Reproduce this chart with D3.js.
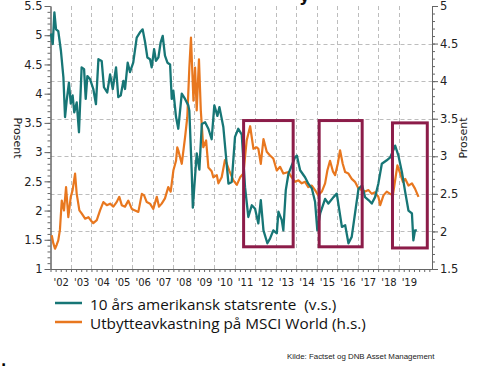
<!DOCTYPE html>
<html>
<head>
<meta charset="utf-8">
<script src="https://cdn.jsdelivr.net/npm/d3@7"></script>
<style>
  body { margin: 0; background: #fff; }
  text { font-family: "DejaVu Sans", Verdana, sans-serif; }
</style>
</head>
<body>
<div id="chart"></div>
<script>
// 10 års amerikansk statsrente (venstre akse)
var rateYears = [2002.02,2002.11,2002.19,2002.27,2002.38,2002.51,2002.63,2002.71,2002.79,2002.90,2002.99,
  2003.08,2003.16,2003.28,2003.39,2003.52,2003.64,2003.72,2003.80,2003.93,2004.09,2004.22,2004.34,2004.50,
  2004.61,2004.77,2004.91,2005.04,2005.20,2005.31,2005.43,2005.56,2005.64,2005.77,2005.88,2006.04,2006.21,
  2006.37,2006.50,2006.62,2006.73,2006.86,2006.94,2007.06,2007.15,2007.27,2007.38,2007.48,2007.59,2007.71,
  2007.84,2007.92,2008.00,2008.13,2008.24,2008.41,2008.57,2008.73,2008.78,2008.90,2008.95,2009.14,2009.27,
  2009.39,2009.55,2009.71,2009.87,2010.00,2010.15,2010.25,2010.44,2010.69,2010.85,2011.01,2011.17,2011.34,
  2011.50,2011.66,2011.83,2011.99,2012.15,2012.27,2012.40,2012.59,2012.72,2012.88,2013.05,2013.13,2013.29,
  2013.37,2013.49,2013.62,2013.94,2014.03,2014.19,2014.43,2014.59,2014.76,2014.92,2015.03,2015.17,2015.41,
  2015.57,2015.82,2015.98,2016.23,2016.39,2016.55,2016.71,2016.87,2017.04,2017.22,2017.36,2017.53,2017.69,
  2017.85,2018.01,2018.18,2018.42,2018.59,2018.83,2018.99,2019.16,2019.32,2019.48,2019.65,2019.72,2019.80,2019.89];
var rateValues = [5.03,4.85,5.39,5.10,5.07,4.73,4.28,3.60,3.88,4.19,3.83,
  3.97,3.68,3.85,3.34,4.45,4.42,3.91,4.30,4.25,4.08,3.82,4.59,4.56,
  4.11,4.02,4.33,4.08,4.45,3.94,3.97,4.22,4.08,4.53,4.37,4.53,4.96,
  5.05,5.10,4.88,4.62,4.59,4.45,4.76,4.56,4.62,4.88,4.99,4.65,4.53,
  4.50,3.91,4.05,3.60,3.40,4.00,3.91,3.80,3.71,2.63,2.05,2.98,2.70,
  3.48,3.51,3.40,3.22,3.80,3.62,3.77,3.43,2.46,2.49,3.26,3.40,3.30,
  2.40,1.89,2.09,2.03,1.78,2.18,1.66,1.44,1.52,1.66,1.61,1.98,1.84,
  1.66,2.35,2.63,2.91,2.94,2.69,2.57,2.46,2.38,2.15,1.66,1.95,2.20,
  2.12,2.23,2.29,1.72,1.75,1.44,1.55,1.95,2.37,2.43,2.23,2.18,2.12,
  2.23,2.46,2.80,2.86,2.91,3.11,2.94,2.66,2.32,2.00,1.95,1.49,1.66,1.66];

// Utbytteavkastning på MSCI World (høyre akse)
var yieldYears = [2002.06,2002.14,2002.22,2002.30,2002.38,2002.46,2002.55,2002.66,2002.76,2002.87,2002.99,
  2003.08,2003.20,2003.28,2003.41,2003.52,2003.69,2003.85,2003.96,2004.09,2004.26,2004.42,2004.58,2004.75,
  2004.91,2005.07,2005.23,2005.36,2005.48,2005.64,2005.80,2005.97,2006.13,2006.29,2006.46,2006.57,2006.70,
  2006.86,2007.02,2007.19,2007.30,2007.43,2007.59,2007.75,2007.87,2008.00,2008.13,2008.19,2008.24,2008.41,
  2008.57,2008.68,2008.78,2008.86,2008.98,2009.06,2009.14,2009.25,2009.34,2009.46,2009.60,2009.71,2009.87,
  2009.95,2010.12,2010.20,2010.36,2010.52,2010.61,2010.73,2010.93,2011.10,2011.26,2011.42,2011.58,2011.75,
  2011.91,2012.07,2012.15,2012.27,2012.40,2012.56,2012.72,2012.88,2013.05,2013.21,2013.37,2013.62,2013.78,
  2013.94,2014.11,2014.27,2014.43,2014.59,2014.76,2014.92,2015.08,2015.25,2015.41,2015.52,2015.65,2015.79,
  2015.90,2016.03,2016.14,2016.27,2016.39,2016.55,2016.71,2016.87,2017.04,2017.20,2017.36,2017.53,2017.69,
  2017.85,2018.01,2018.10,2018.26,2018.42,2018.59,2018.72,2018.83,2018.94,2019.08,2019.21,2019.32,2019.48,
  2019.65,2019.80,2019.97];
var yieldValues = [1.95,1.84,1.77,1.82,1.88,2.02,2.41,2.28,2.59,2.19,2.46,
  2.55,2.77,2.50,2.28,2.24,2.17,2.19,2.15,2.11,2.15,2.28,2.39,2.35,
  2.37,2.33,2.39,2.46,2.35,2.33,2.41,2.30,2.28,2.26,2.50,2.48,2.39,
  2.37,2.30,2.46,2.33,2.37,2.44,2.59,2.53,2.81,2.94,3.12,3.08,2.90,
  3.25,3.52,4.18,4.58,3.74,4.18,3.61,4.29,3.61,3.12,3.21,2.85,2.80,
  2.72,2.75,2.64,2.72,2.95,2.90,2.81,2.68,2.62,2.72,2.77,3.21,3.40,
  3.10,3.12,3.10,2.90,3.23,3.06,3.01,2.97,2.81,2.86,2.77,2.79,2.72,
  2.66,2.68,2.64,2.66,2.59,2.61,2.55,2.48,2.53,2.64,2.81,2.94,2.80,
  2.75,2.90,3.08,2.90,2.79,2.77,2.70,2.66,2.57,2.55,2.53,2.55,2.50,
  2.52,2.46,2.35,2.48,2.53,2.50,2.48,2.68,2.88,2.77,2.66,2.70,2.61,
  2.64,2.57,2.46];

// markerte perioder: [fra, til, bunn, topp] (venstre akse)
var boxStart = [2011.43, 2015.12, 2018.70];
var boxEnd = [2013.85, 2017.22, 2020.40];
var boxLow = [1.38, 1.38, 1.36];
var boxHigh = [3.54, 3.54, 3.50];

var yearTicks = d3.range(2002, 2020);
var leftTicks = [1, 1.5, 2, 2.5, 3, 3.5, 4, 4.5, 5, 5.5];
var rightTicks = [1.5, 2, 2.5, 3, 3.5, 4, 4.5, 5];

var legendLabels = ["10 års amerikansk statsrente  (v.s.)", "Utbytteavkastning på MSCI World (h.s.)"];
var source = "Kilde: Factset og DNB Asset Management";

var svgWidth = 493, svgHeight = 366;
var plot = { left: 50.5, right: 432, top: 6, bottom: 269 };

var teal = "#177676", orange = "#e8771f", maroon = "#8c1c49";

var svg = d3.select("#chart").append("svg")
  .attr("width", svgWidth)
  .attr("height", svgHeight);

var x = d3.scaleLinear().domain([2002, 2020.63]).range([plot.left, plot.right]);
var yLeft = d3.scaleLinear().domain([1, 5.5]).range([plot.bottom, plot.top]);
var yRight = d3.scaleLinear().domain([1.5, 5]).range([plot.bottom, plot.top]);

// grid
var grid = svg.append("g").attr("stroke", "#bdbdbd").attr("stroke-dasharray", "4,3").attr("stroke-width", 1);
grid.selectAll(".vg").data(yearTicks.slice(1)).enter().append("line")
  .attr("x1", d => Math.round(x(d)) + 0.5).attr("x2", d => Math.round(x(d)) + 0.5)
  .attr("y1", plot.top).attr("y2", plot.bottom);
grid.selectAll(".hg").data(rightTicks.filter(d => d > 1.5 && d < 5)).enter().append("line")
  .attr("x1", plot.left).attr("x2", plot.right)
  .attr("y1", d => Math.round(yRight(d)) + 0.5).attr("y2", d => Math.round(yRight(d)) + 0.5);

// axes
function styleAxis(g) {
  g.select(".domain").attr("stroke", "#666");
  g.selectAll(".tick line").attr("stroke", "#666");
  g.selectAll(".tick text").attr("fill", "#222").style("font-family", "DejaVu Sans, Verdana, sans-serif");
}

svg.append("g").attr("transform", "translate(" + plot.left + ",0)")
  .call(d3.axisLeft(yLeft).tickValues(d3.range(1, 5.51, 0.1)).tickSize(3).tickFormat("").tickSizeOuter(0))
  .call(styleAxis);
svg.append("g").attr("transform", "translate(" + plot.left + ",0)")
  .call(d3.axisLeft(yLeft).tickValues(leftTicks).tickSize(6).tickPadding(2).tickFormat(d3.format("")).tickSizeOuter(0))
  .call(styleAxis)
  .call(g => g.selectAll(".tick text").style("font-size", "11.5px"));

svg.append("g").attr("transform", "translate(" + plot.right + ",0)")
  .call(d3.axisRight(yRight).tickValues(d3.range(1.5, 5.01, 0.1)).tickSize(3).tickFormat("").tickSizeOuter(0))
  .call(styleAxis);
svg.append("g").attr("transform", "translate(" + plot.right + ",0)")
  .call(d3.axisRight(yRight).tickValues(rightTicks).tickSize(6).tickPadding(2).tickFormat(d3.format("")).tickSizeOuter(0))
  .call(styleAxis)
  .call(g => g.selectAll(".tick text").style("font-size", "11.5px"));

svg.append("g").attr("transform", "translate(0," + plot.bottom + ")")
  .call(d3.axisBottom(x).tickValues(d3.range(2002, 2020.6, 0.25)).tickSize(3).tickFormat("").tickSizeOuter(0))
  .call(styleAxis);
svg.append("g").attr("transform", "translate(0," + plot.bottom + ")")
  .call(d3.axisBottom(x).tickValues(yearTicks.map(d => d + 0.5)).tickSize(0).tickPadding(10)
    .tickFormat(d => "'" + String(Math.floor(d)).slice(2)).tickSizeOuter(0))
  .call(styleAxis)
  .call(g => g.select(".domain").remove())
  .call(g => g.selectAll(".tick text").style("font-size", "10px"));

// lines
var rateLine = d3.line().x(d => x(d[0])).y(d => yLeft(d[1]));
var yieldLine = d3.line().x(d => x(d[0])).y(d => yRight(d[1]));

svg.append("path")
  .datum(yieldYears.map((d, i) => [d, yieldValues[i]]))
  .attr("fill", "none").attr("stroke", orange).attr("stroke-width", 2.2).attr("stroke-linejoin", "round")
  .attr("d", yieldLine);

svg.append("path")
  .datum(rateYears.map((d, i) => [d, rateValues[i]]))
  .attr("fill", "none").attr("stroke", teal).attr("stroke-width", 2.3).attr("stroke-linejoin", "round")
  .attr("d", rateLine);

// boxes
svg.selectAll(".box").data(boxStart).enter().append("rect")
  .attr("x", (d, i) => x(d))
  .attr("y", (d, i) => yLeft(boxHigh[i]))
  .attr("width", (d, i) => x(boxEnd[i]) - x(d))
  .attr("height", (d, i) => yLeft(boxLow[i]) - yLeft(boxHigh[i]))
  .attr("fill", "none").attr("stroke", maroon).attr("stroke-width", 3);

// axis titles
svg.append("text").attr("transform", "translate(14,138) rotate(90)")
  .attr("text-anchor", "middle").style("font-size", "11px").attr("fill", "#222").text("Prosent");
svg.append("text").attr("transform", "translate(467,138) rotate(-90)")
  .attr("text-anchor", "middle").style("font-size", "11px").attr("fill", "#222").text("Prosent");

// cut-off title descender
svg.append("text").attr("x", 299).attr("y", 1).style("font-size", "17px").style("font-weight", "bold")
  .attr("fill", "#111").text("y");

// legend
var legendColors = [teal, orange];
var legend = svg.selectAll(".legend").data(legendLabels).enter().append("g")
  .attr("transform", (d, i) => "translate(55," + (303 + i * 19) + ")");
legend.append("line").attr("x1", 0).attr("x2", 27).attr("y1", 0).attr("y2", 0)
  .attr("stroke", (d, i) => legendColors[i]).attr("stroke-width", 2.5);
legend.append("text").attr("x", 35).attr("y", 7)
  .style("font-family", "'Open Sans', sans-serif").style("font-size", "15.3px").attr("fill", "#111")
  .style("white-space", "pre")
  .text(d => d);

// source
svg.append("text").attr("x", 287).attr("y", 359)
  .style("font-family", "'Liberation Sans', Arial, sans-serif").style("font-size", "7.9px").attr("fill", "#222")
  .text(source);
svg.append("text").attr("x", 1).attr("y", 366).style("font-size", "14px").style("font-weight", "bold").text(".");
</script>
</body>
</html>
